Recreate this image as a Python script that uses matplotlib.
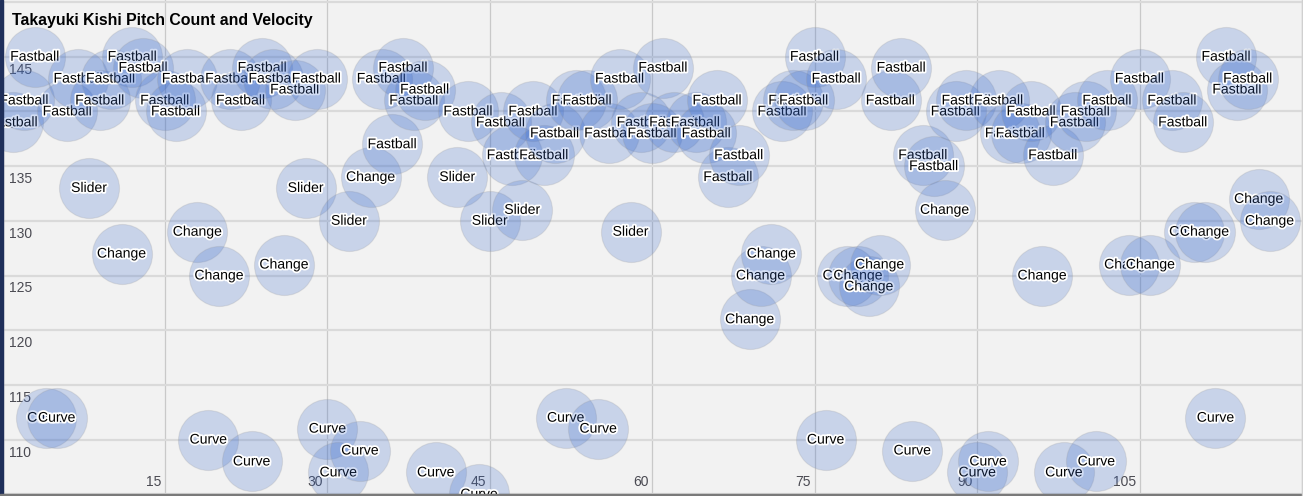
import matplotlib
matplotlib.use('Agg')
from matplotlib import pyplot as plt
from matplotlib import patheffects
from matplotlib.patches import Rectangle

plt.rcParams['font.family'] = ['Liberation Sans', 'DejaVu Sans']

# pitch number, pitch type, velocity (km/h)
pitch_no = [1, 2, 3, 4, 5, 6, 7, 8, 9, 10,
            11, 12, 13, 15, 16, 17, 18, 19, 20, 21,
            22, 23, 24, 25, 26, 27, 28, 29, 30, 31,
            32, 33, 34, 35, 36, 37, 38, 39, 40, 42,
            43, 44, 45, 46, 47, 48, 49, 50, 51, 52,
            53, 54, 55, 56, 57, 58, 59, 60, 61, 62,
            64, 65, 66, 67, 68, 69, 70, 71, 72, 73,
            74, 75, 76, 77, 78, 79, 80, 81, 82, 83,
            84, 85, 86, 87, 88, 89, 90, 91, 92, 93,
            94, 95, 96, 97, 98, 99, 100, 101, 102, 104,
            105, 106, 108, 109, 110, 111, 112, 113, 114, 115,
            116, 117]
pitch_type = ['Fastball', 'Fastball', 'Fastball', 'Curve', 'Curve', 'Fastball', 'Fastball', 'Slider', 'Fastball', 'Fastball',
              'Change', 'Fastball', 'Fastball', 'Fastball', 'Fastball', 'Fastball', 'Change', 'Curve', 'Change', 'Fastball',
              'Fastball', 'Curve', 'Fastball', 'Fastball', 'Change', 'Fastball', 'Slider', 'Fastball', 'Curve', 'Curve',
              'Slider', 'Curve', 'Change', 'Fastball', 'Fastball', 'Fastball', 'Fastball', 'Fastball', 'Curve', 'Slider',
              'Fastball', 'Curve', 'Slider', 'Fastball', 'Fastball', 'Slider', 'Fastball', 'Fastball', 'Fastball', 'Curve',
              'Fastball', 'Fastball', 'Curve', 'Fastball', 'Fastball', 'Slider', 'Fastball', 'Fastball', 'Fastball', 'Fastball',
              'Fastball', 'Fastball', 'Fastball', 'Fastball', 'Fastball', 'Change', 'Change', 'Change', 'Fastball', 'Fastball',
              'Fastball', 'Fastball', 'Curve', 'Fastball', 'Change', 'Change', 'Change', 'Change', 'Fastball', 'Fastball',
              'Curve', 'Fastball', 'Fastball', 'Change', 'Fastball', 'Fastball', 'Curve', 'Curve', 'Fastball', 'Fastball',
              'Fastball', 'Fastball', 'Change', 'Fastball', 'Curve', 'Fastball', 'Fastball', 'Curve', 'Fastball', 'Change',
              'Fastball', 'Change', 'Fastball', 'Fastball', 'Change', 'Change', 'Curve', 'Fastball', 'Fastball', 'Fastball',
              'Change', 'Change']
velocity = [139, 141, 145, 112, 112, 140, 143, 133, 141, 143,
            127, 145, 144, 141, 140, 143, 129, 110, 125, 143,
            141, 108, 144, 143, 126, 142, 133, 143, 111, 107,
            130, 109, 134, 143, 137, 144, 141, 142, 107, 134,
            140, 105, 130, 139, 136, 131, 140, 136, 138, 112,
            141, 141, 111, 138, 143, 129, 139, 138, 144, 139,
            139, 138, 141, 134, 136, 121, 125, 127, 140, 141,
            141, 145, 110, 143, 125, 125, 124, 126, 141, 144,
            109, 136, 135, 131, 140, 141, 107, 108, 141, 138,
            138, 140, 125, 136, 107, 139, 140, 108, 141, 126,
            143, 126, 141, 139, 129, 129, 112, 145, 142, 143,
            132, 130]

x_ticks = [15, 30, 45, 60, 75, 90, 105]
y_ticks = [110, 115, 120, 125, 130, 135, 140, 145]
title = 'Takayuki Kishi Pitch Count and Velocity'

W, H = 1303, 496
fig = plt.figure(figsize=(W / 100, H / 100), dpi=100, facecolor='#f2f2f2')
ax = fig.add_axes([0, 0, 1, 1])
ax.set_facecolor('#f2f2f2')

# 10.83 px per pitch, 10.94 px per km/h
ax.set_xlim(-2.5 / 10.83, (W - 2.5) / 10.83)
ax.set_ylim(105 - 1.7 / 10.94, 150 + 2 / 10.94)
for s in ax.spines.values():
    s.set_visible(False)
ax.set_xticks(range(0, 121, 15))
ax.set_yticks(range(105, 151, 5))
ax.tick_params(length=0, labelleft=False, labelbottom=False)
ax.grid(axis='y', color='#dadada', lw=1.6, zorder=0)
ax.grid(axis='x', color='#c9c9c9', lw=0.9, zorder=0)
ax.set_axisbelow(True)

# tick labels sit inside the plot
for v in y_ticks:
    ax.annotate(str(v), (0, v), xytext=(6, -13), textcoords='offset pixels',
                ha='left', va='center', fontsize=10, color='#4a4a52', zorder=1)
for v in x_ticks:
    ax.annotate(str(v), (v, 105), xytext=(-4, 12), textcoords='offset pixels',
                ha='right', va='center', fontsize=10, color='#4a4a52', zorder=1)

halo = [patheffects.withStroke(linewidth=2.6, foreground='white')]
for i, (n, t, v) in enumerate(zip(pitch_no, pitch_type, velocity)):
    z = 2 + i * 0.01
    ax.scatter([n], [v], s=1866, color='#3366cc', alpha=0.22,
               edgecolors='#9a9a9a', linewidths=0.8, zorder=z)
    ax.text(n, v, t, ha='center', va='center', fontsize=10.1, color='black',
            path_effects=halo, zorder=z + 0.005)

fig.text(12 / W, 1 - 20 / H, title, ha='left', va='center',
         fontsize=11.4, fontweight='bold', color='black')

# frame bits at the edges
fig.add_artist(Rectangle((0, 0), 2.5 / W, 1, transform=fig.transFigure,
                         color='#1f2f5a', zorder=10))
fig.add_artist(Rectangle((0, 0), 1, 2 / H, transform=fig.transFigure,
                         color='#7a7a7a', zorder=10))
fig.add_artist(Rectangle((1 - 1.5 / W, 0), 1.5 / W, 1, transform=fig.transFigure,
                         color='#d0d0d0', zorder=10))

fig.savefig('out.png', dpi=100, facecolor=fig.get_facecolor())
